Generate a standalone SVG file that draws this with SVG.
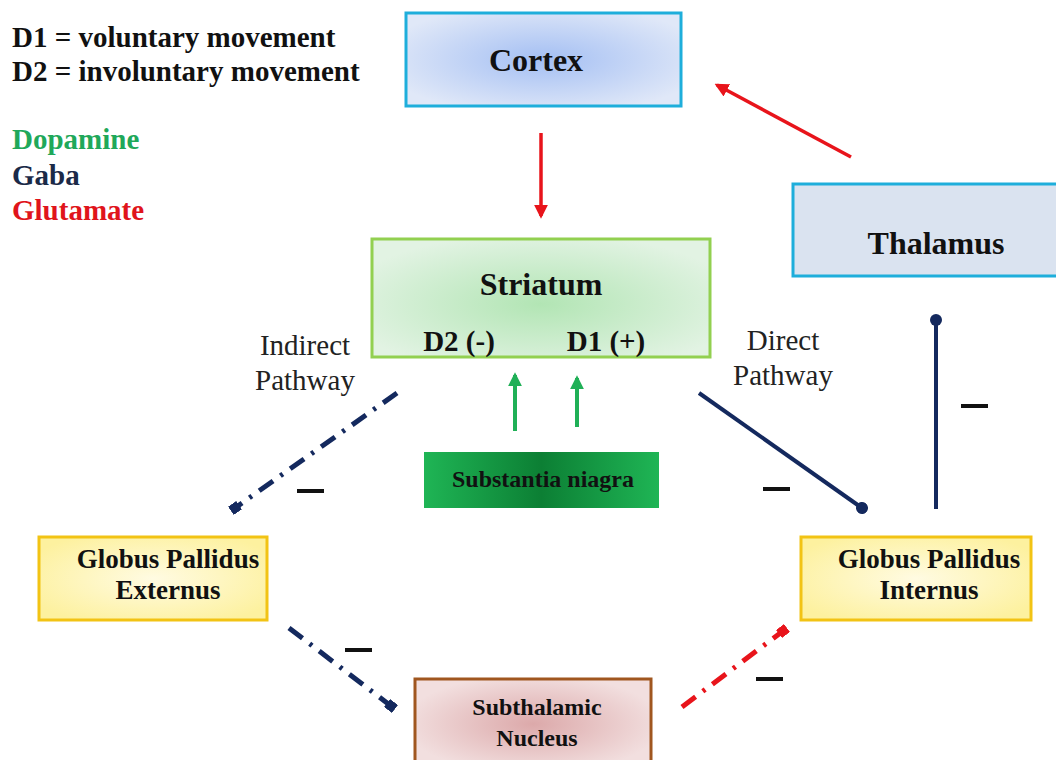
<svg xmlns="http://www.w3.org/2000/svg" width="1056" height="760" viewBox="0 0 1056 760">
  <defs>
    <radialGradient id="gCortex" cx="50%" cy="50%" r="60%">
      <stop offset="0" stop-color="#a4bff3"/>
      <stop offset="1" stop-color="#e0e8f8"/>
    </radialGradient>
    <radialGradient id="gStriatum" cx="50%" cy="55%" r="60%">
      <stop offset="0" stop-color="#b2e5b4"/>
      <stop offset="1" stop-color="#e2f3e3"/>
    </radialGradient>
    <linearGradient id="gNigra" x1="0" y1="0" x2="1" y2="0">
      <stop offset="0" stop-color="#1fb555"/>
      <stop offset="0.5" stop-color="#0c7f34"/>
      <stop offset="1" stop-color="#1fb555"/>
    </linearGradient>
    <radialGradient id="gPallidus" cx="50%" cy="50%" r="60%">
      <stop offset="0" stop-color="#fffbe2"/>
      <stop offset="1" stop-color="#fdf19f"/>
    </radialGradient>
    <radialGradient id="gSubthal" cx="50%" cy="50%" r="55%">
      <stop offset="0" stop-color="#dca9aa"/>
      <stop offset="1" stop-color="#f2dfdf"/>
    </radialGradient>
    <marker id="arrRed" viewBox="0 0 10 10" refX="8" refY="5" markerWidth="4" markerHeight="4" orient="auto" markerUnits="strokeWidth">
      <path d="M0,0 L10,5 L0,10 z" fill="#e8141b"/>
    </marker>
    <marker id="arrGreen" viewBox="0 0 10 10" refX="8" refY="5" markerWidth="3.5" markerHeight="3.5" orient="auto" markerUnits="strokeWidth">
      <path d="M0,0 L10,5 L0,10 z" fill="#20b057"/>
    </marker>
    <marker id="dotNavy" viewBox="0 0 10 10" refX="5" refY="5" markerWidth="3" markerHeight="3" orient="auto" markerUnits="strokeWidth">
      <circle cx="5" cy="5" r="5" fill="#14295e"/>
    </marker>
    <marker id="sqNavy" viewBox="0 0 10 10" refX="5" refY="5" markerWidth="2" markerHeight="2" orient="auto" markerUnits="strokeWidth">
      <rect x="0" y="0" width="10" height="10" fill="#14295e"/>
    </marker>
    <marker id="sqRed" viewBox="0 0 10 10" refX="5" refY="5" markerWidth="2" markerHeight="2" orient="auto" markerUnits="strokeWidth">
      <rect x="0" y="0" width="10" height="10" fill="#e8141b"/>
    </marker>
  </defs>
  <style>
    text { font-family: "Liberation Serif", "Times New Roman", serif; }
    .node { stroke-width: 3; }
    .lbl { font-size: 32px; text-anchor: middle; font-weight: bold; fill: #111; }
    .rec { font-size: 29px; text-anchor: middle; font-weight: bold; fill: #111; }
    .gp { font-size: 27px; text-anchor: middle; font-weight: bold; fill: #111; }
    .sm { font-size: 24px; text-anchor: middle; font-weight: bold; fill: #111; }
    .path { font-size: 29px; text-anchor: middle; fill: #222; }
    .legend { font-size: 29px; font-weight: bold; }
    .minus { stroke: #111; stroke-width: 4; }
    .gaba { stroke: #14295e; stroke-width: 4; fill: none; }
    .dashdot { stroke-width: 5; stroke-dasharray: 17 9 3 9; fill: none; }
  </style>

  <rect width="1056" height="760" fill="#ffffff"/>

  <!-- legend -->
  <g id="legend">
    <text class="legend" x="12" y="47" fill="#111">D1 = voluntary movement</text>
    <text class="legend" x="12" y="81" fill="#111">D2 = involuntary movement</text>
    <text class="legend" x="12" y="149" fill="#1fa85a">Dopamine</text>
    <text class="legend" x="12" y="185" fill="#1b2a48">Gaba</text>
    <text class="legend" x="12" y="220" fill="#e0141b">Glutamate</text>
  </g>

  <!-- pathway captions -->
  <g id="pathway-labels">
    <text class="path" x="305" y="355">Indirect</text>
    <text class="path" x="305" y="390">Pathway</text>
    <text class="path" x="783" y="350">Direct</text>
    <text class="path" x="783" y="385">Pathway</text>
  </g>

  <!-- nodes -->
  <g id="cortex">
    <rect class="node" x="406" y="13" width="275" height="93" fill="url(#gCortex)" stroke="#1eaedb"/>
    <text class="lbl" x="536" y="71">Cortex</text>
  </g>
  <g id="thalamus">
    <rect class="node" x="793" y="184" width="270" height="92" fill="#dae3f0" stroke="#1eaedb"/>
    <text class="lbl" x="936" y="254">Thalamus</text>
  </g>
  <g id="striatum">
    <rect class="node" x="372" y="239" width="338" height="118" fill="url(#gStriatum)" stroke="#92d050"/>
    <text class="lbl" x="541" y="295">Striatum</text>
    <text class="rec" x="459" y="351">D2 (-)</text>
    <text class="rec" x="606" y="351">D1 (+)</text>
  </g>
  <g id="substantia-nigra">
    <rect x="424" y="452" width="235" height="56" fill="url(#gNigra)"/>
    <text class="sm" x="543" y="487">Substantia niagra</text>
  </g>
  <g id="globus-pallidus-externus">
    <rect class="node" x="39" y="537" width="228" height="83" fill="url(#gPallidus)" stroke="#f2c314"/>
    <text class="gp" x="168" y="568">Globus Pallidus</text>
    <text class="gp" x="168" y="599">Externus</text>
  </g>
  <g id="globus-pallidus-internus">
    <rect class="node" x="801" y="537" width="230" height="83" fill="url(#gPallidus)" stroke="#f2c314"/>
    <text class="gp" x="929" y="568">Globus Pallidus</text>
    <text class="gp" x="929" y="599">Internus</text>
  </g>
  <g id="subthalamic-nucleus">
    <rect class="node" x="415" y="679" width="236" height="90" fill="url(#gSubthal)" stroke="#a0561f"/>
    <text class="sm" x="537" y="715">Subthalamic</text>
    <text class="sm" x="537" y="746">Nucleus</text>
  </g>

  <!-- connectors -->
  <g id="connectors">
    <!-- glutamate -->
    <line x1="541" y1="133" x2="541" y2="216" stroke="#e8141b" stroke-width="3.5" marker-end="url(#arrRed)"/>
    <line x1="851" y1="157" x2="717" y2="85" stroke="#e8141b" stroke-width="3.5" marker-end="url(#arrRed)"/>
    <!-- dopamine -->
    <line x1="515" y1="431" x2="515" y2="375" stroke="#20b057" stroke-width="4" marker-end="url(#arrGreen)"/>
    <line x1="577" y1="427" x2="577" y2="378" stroke="#20b057" stroke-width="4" marker-end="url(#arrGreen)"/>
    <!-- direct pathway (GABA) -->
    <line class="gaba" x1="699" y1="393" x2="862" y2="508" marker-end="url(#dotNavy)"/>
    <!-- pallidus internus to thalamus (GABA) -->
    <line class="gaba" x1="936" y1="509" x2="936" y2="320" marker-end="url(#dotNavy)"/>
    <!-- indirect pathway (GABA) -->
    <line class="dashdot" stroke="#14295e" x1="397" y1="393" x2="235" y2="508" marker-end="url(#sqNavy)"/>
    <line class="dashdot" stroke="#14295e" x1="289" y1="628" x2="391" y2="706" marker-end="url(#sqNavy)"/>
    <!-- subthalamic to pallidus internus (glutamate) -->
    <line class="dashdot" stroke="#e8141b" x1="682" y1="707" x2="783" y2="631" marker-end="url(#sqRed)"/>
  </g>

  <!-- inhibition signs -->
  <g id="inhibition-marks">
    <line class="minus" x1="297" y1="491" x2="324" y2="491"/>
    <line class="minus" x1="345" y1="650" x2="372" y2="650"/>
    <line class="minus" x1="763" y1="489" x2="790" y2="489"/>
    <line class="minus" x1="961" y1="406" x2="988" y2="406"/>
    <line class="minus" x1="756" y1="679" x2="783" y2="679"/>
  </g>
</svg>
